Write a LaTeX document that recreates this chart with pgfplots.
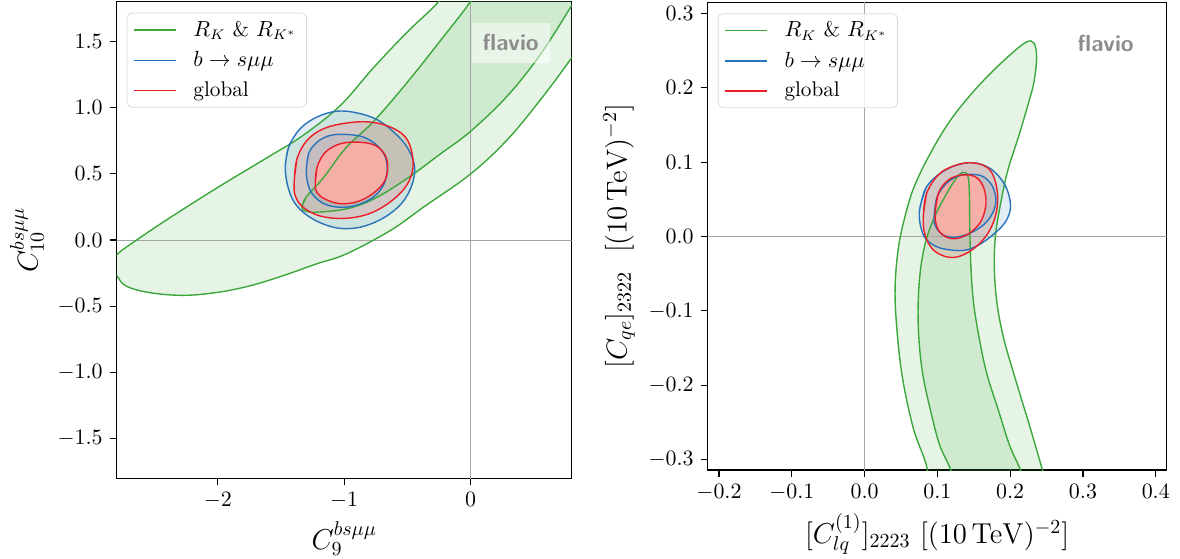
\documentclass[border=0pt]{standalone}
\usepackage{pgfplots}
\pgfplotsset{compat=1.18}
\usepackage{pgfplotstable}
\definecolor{cgreen}{RGB}{60,168,60}
\definecolor{cblue}{RGB}{40,115,185}
\definecolor{cred}{RGB}{235,30,40}
\definecolor{credfillA}{RGB}{245,95,95}
\definecolor{credfillB}{RGB}{255,174,166}
\definecolor{zgray}{RGB}{165,165,165}

% ---------- left panel ----------
\pgfplotstableread{
x y
-2.86 -0.19
-2.793 -0.105
-2.648 -0.004
-2.410 0.149
-2.013 0.390
-1.617 0.618
-1.326 0.790
-1.030 1.017
-0.766 1.304
-0.502 1.570
-0.251 1.803
-0.15 1.97
0.5 2.1
1.0 2.0
0.92 1.55
0.793 1.367
0.555 1.062
0.291 0.758
0.000 0.499
-0.370 0.250
-0.634 0.072
-0.983 -0.105
-1.221 -0.181
-1.485 -0.270
-1.749 -0.347
-2.013 -0.397
-2.277 -0.418
-2.542 -0.397
-2.727 -0.347
-2.798 -0.270
-2.86 -0.19
-2.793 -0.105
}\tabLgOut
\pgfplotstableread{
x y
-1.335 0.245
-1.300 0.326
-1.168 0.466
-0.983 0.700
-0.766 0.897
-0.502 1.190
-0.238 1.507
0.000 1.803
0.08 1.97
0.6 2.1
1.0 2.0
0.86 1.87
0.793 1.761
0.555 1.405
0.291 1.088
0.000 0.821
-0.238 0.651
-0.502 0.465
-0.766 0.310
-0.983 0.235
-1.221 0.210
-1.305 0.218
-1.335 0.245
-1.300 0.326
}\tabLgIn
\pgfplotstableread{
x y
-1.4665 0.548
-1.440 0.701
-1.348 0.841
-1.215 0.929
-1.057 0.973
-0.898 0.960
-0.740 0.909
-0.608 0.815
-0.502 0.701
-0.444 0.561
-0.462 0.422
-0.541 0.282
-0.687 0.168
-0.872 0.097
-1.057 0.091
-1.242 0.155
-1.374 0.257
-1.440 0.384
-1.4665 0.548
-1.440 0.701
}\tabLbOut
\pgfplotstableread{
x y
-1.300 0.510
-1.282 0.650
-1.215 0.739
-1.110 0.790
-0.977 0.797
-0.846 0.777
-0.740 0.714
-0.674 0.625
-0.661 0.510
-0.700 0.396
-0.793 0.308
-0.925 0.257
-1.057 0.249
-1.176 0.282
-1.268 0.371
-1.300 0.510
-1.282 0.650
}\tabLbIn
\pgfplotstableread{
x y
-1.395 0.447
-1.374 0.612
-1.295 0.752
-1.163 0.841
-0.978 0.884
-0.793 0.891
-0.634 0.853
-0.515 0.777
-0.462 0.650
-0.462 0.510
-0.528 0.384
-0.661 0.270
-0.819 0.193
-1.004 0.163
-1.189 0.181
-1.321 0.244
-1.387 0.333
-1.395 0.447
-1.374 0.612
}\tabLrOut
\pgfplotstableread{
x y
-1.229 0.422
-1.215 0.548
-1.149 0.663
-1.030 0.727
-0.885 0.739
-0.753 0.714
-0.674 0.637
-0.656 0.536
-0.687 0.434
-0.780 0.346
-0.898 0.289
-1.030 0.274
-1.149 0.308
-1.215 0.358
-1.229 0.422
-1.215 0.548
}\tabLrIn

% ---------- right panel ----------
\pgfplotstableread{
x y
0.080 -0.35
0.0865 -0.3148
0.0668 -0.2573
0.0513 -0.1854
0.0435 -0.1136
0.0420 -0.0656
0.0461 -0.0177
0.0539 0.0206
0.0668 0.0637
0.0876 0.1069
0.1135 0.1500
0.1394 0.1835
0.1705 0.2171
0.2016 0.2458
0.2223 0.2616
0.2326 0.2602
0.2363 0.2410
0.2326 0.2075
0.2249 0.1787
0.2119 0.1356
0.1964 0.0877
0.1860 0.0398
0.1798 0.0014
0.1782 -0.0417
0.1819 -0.0896
0.1912 -0.1375
0.2067 -0.1902
0.2275 -0.2573
0.2446 -0.3148
0.255 -0.35
0.080 -0.35
0.0865 -0.3148
}\tabRgOut
\pgfplotstableread{
x y
0.122 -0.34
0.1187 -0.3148
0.1031 -0.2803
0.0902 -0.2324
0.0798 -0.1845
0.0746 -0.1370
0.0736 -0.0892
0.0772 -0.0416
0.0850 -0.0033
0.0979 0.0302
0.1135 0.0589
0.1264 0.0790
0.1350 0.0862
0.1420 0.0810
0.1440 0.0560
0.1446 0.0062
0.1461 -0.0416
0.1497 -0.0892
0.1575 -0.1370
0.1679 -0.1845
0.1834 -0.2324
0.1990 -0.2803
0.2145 -0.3148
0.222 -0.34
0.122 -0.34
0.1187 -0.3148
}\tabRgIn
\pgfplotstableread{
x y
0.0752 0.0335
0.0852 0.0670
0.1128 0.0904
0.1448 0.0993
0.1722 0.0917
0.1928 0.0693
0.2005 0.0424
0.1951 0.0223
0.1813 0.0066
0.1608 -0.0090
0.1402 -0.0180
0.1173 -0.0180
0.0967 -0.0126
0.0807 0.0021
0.0752 0.0335
0.0852 0.0670
}\tabRbOut
\pgfplotstableread{
x y
0.0953 0.0244
0.0990 0.0514
0.1104 0.0693
0.1264 0.0805
0.1448 0.0836
0.1631 0.0805
0.1759 0.0671
0.1805 0.0469
0.1745 0.0290
0.1631 0.0156
0.1448 0.0044
0.1241 -0.0010
0.1081 0.0021
0.0981 0.0124
0.0953 0.0244
0.0990 0.0514
}\tabRbIn
\pgfplotstableread{
x y
0.0807 0.0268
0.0852 0.0581
0.1036 0.0850
0.1310 0.0975
0.1539 0.0984
0.1722 0.0895
0.1813 0.0671
0.1823 0.0402
0.1745 0.0134
0.1585 -0.0090
0.1356 -0.0247
0.1150 -0.0278
0.0944 -0.0180
0.0830 0.0021
0.0807 0.0268
0.0852 0.0581
}\tabRrOut
\pgfplotstableread{
x y
0.0967 0.0290
0.1013 0.0581
0.1150 0.0760
0.1333 0.0827
0.1516 0.0805
0.1631 0.0671
0.1668 0.0447
0.1608 0.0223
0.1471 0.0066
0.1288 -0.0023
0.1128 -0.0010
0.1013 0.0089
0.0967 0.0290
0.1013 0.0581
}\tabRrIn

\pgfplotsset{legend image code/.code={\draw[#1] (0pt,0pt) -- (21pt,0pt);}}
\pgfplotsset{
  panel/.style={
    anchor=south west, scale only axis,
    axis line style={line width=0.6pt},
    every tick/.style={black, line width=0.6pt},
    tick align=outside, major tick length=3.5pt,
    xtick pos=bottom, ytick pos=left,
    tick label style={font=\fontsize{10.6}{12.7}\selectfont},
    label style={font=\Large},
    legend cell align=left,
    legend style={at={(0,1)}, anchor=north west, xshift=5pt, yshift=-5.5pt,
      draw=black!15, rounded corners=2.5pt, fill=white, fill opacity=0.8,
      text opacity=1, font=\fontsize{10.6}{12.7}\selectfont, row sep=2pt,
      column sep=6.5pt, inner xsep=3pt, inner ysep=2pt},
  },
  gfill/.style={fill=cgreen, fill opacity=0.13, draw=none, smooth, tension=0.6, forget plot},
  bfill/.style={fill=cblue, fill opacity=0.13, draw=none, smooth, tension=0.6, forget plot},
  rfillA/.style={fill=credfillA, fill opacity=0.2, draw=none, smooth, tension=0.6, forget plot},
  rfillB/.style={fill=credfillB, fill opacity=0.85, draw=none, smooth, tension=0.6, forget plot},
  contourline/.style={draw=#1, line width=0.7pt, smooth, tension=0.6},
}

\begin{document}
\begin{tikzpicture}[x=1pt,y=1pt]
\path[use as bounding box] (0,0) rectangle (590,279);

\begin{axis}[panel, at={(58.35pt,39.85pt)}, width=227.5pt, height=238.3pt,
  xmin=-2.8, xmax=0.8, ymin=-1.8, ymax=1.8,
  xtick={-2,-1,0},
  ytick={-1.5,-1,-0.5,0,0.5,1,1.5},
  yticklabel style={/pgf/number format/.cd, fixed, fixed zerofill, precision=1},
  xlabel={$C_9^{bs\mu\mu}$}, ylabel={$C_{10}^{bs\mu\mu}$}]
\addplot[gfill] table {\tabLgOut};
\addplot[gfill] table {\tabLgIn};
\addplot[bfill] table {\tabLbOut};
\addplot[bfill] table {\tabLbIn};
\addplot[rfillA] table {\tabLrOut};
\addplot[rfillB] table {\tabLrIn};
\addplot[color=zgray, line width=0.5pt, forget plot] coordinates {(-3,0) (1,0)};
\addplot[color=zgray, line width=0.5pt, forget plot] coordinates {(0,-2) (0,2)};
\addplot[contourline=cgreen, forget plot] table {\tabLgOut};
\addplot[contourline=cgreen] table {\tabLgIn};
\addlegendentry{$R_K$ \& $R_{K^*}$}
\addplot[contourline=cblue, forget plot] table {\tabLbOut};
\addplot[contourline=cblue] table {\tabLbIn};
\addlegendentry{$b\rightarrow s\mu\mu$}
\addplot[contourline=cred, forget plot] table {\tabLrOut};
\addplot[contourline=cred] table {\tabLrIn};
\addlegendentry{global}
\node[fill=white, fill opacity=0.5, text opacity=1, text=black!45,
  minimum width=39pt, minimum height=20pt, inner sep=0pt,
  font=\fontsize{11.6}{13}\sffamily\bfseries]
  at ([xshift=-30.5pt, yshift=-20.5pt]rel axis cs:1,1) {flavio};
\end{axis}

\begin{axis}[panel, at={(353.85pt,44pt)}, width=229.5pt, height=233.85pt,
  xmin=-0.2155, xmax=0.415, ymin=-0.314, ymax=0.315,
  xtick={-0.2,-0.1,0,0.1,0.2,0.3,0.4},
  ytick={-0.3,-0.2,-0.1,0,0.1,0.2,0.3},
  xticklabel style={/pgf/number format/.cd, fixed, fixed zerofill, precision=1},
  yticklabel style={/pgf/number format/.cd, fixed, fixed zerofill, precision=1},
  xlabel={$[C_{lq}^{(1)}]_{2223}\ [(10\,\mathrm{TeV})^{-2}]$},
  ylabel={$[C_{qe}]_{2322}\ \ [(10\,\mathrm{TeV})^{-2}]$}]
\addplot[gfill] table {\tabRgOut};
\addplot[gfill] table {\tabRgIn};
\addplot[bfill] table {\tabRbOut};
\addplot[bfill] table {\tabRbIn};
\addplot[rfillA] table {\tabRrOut};
\addplot[rfillB] table {\tabRrIn};
\addplot[color=zgray, line width=0.5pt, forget plot] coordinates {(-0.3,0) (0.5,0)};
\addplot[color=zgray, line width=0.5pt, forget plot] coordinates {(0,-0.4) (0,0.4)};
\addplot[contourline=cgreen, forget plot] table {\tabRgOut};
\addplot[contourline=cgreen] table {\tabRgIn};
\addlegendentry{$R_K$ \& $R_{K^*}$}
\addplot[contourline=cblue, forget plot] table {\tabRbOut};
\addplot[contourline=cblue] table {\tabRbIn};
\addlegendentry{$b\rightarrow s\mu\mu$}
\addplot[contourline=cred, forget plot] table {\tabRrOut};
\addplot[contourline=cred] table {\tabRrIn};
\addlegendentry{global}
\node[text=black!45, inner sep=0pt,
  font=\fontsize{11.6}{13}\sffamily\bfseries]
  at ([xshift=-30.5pt, yshift=-20.5pt]rel axis cs:1,1) {flavio};
\end{axis}
\end{tikzpicture}
\end{document}
